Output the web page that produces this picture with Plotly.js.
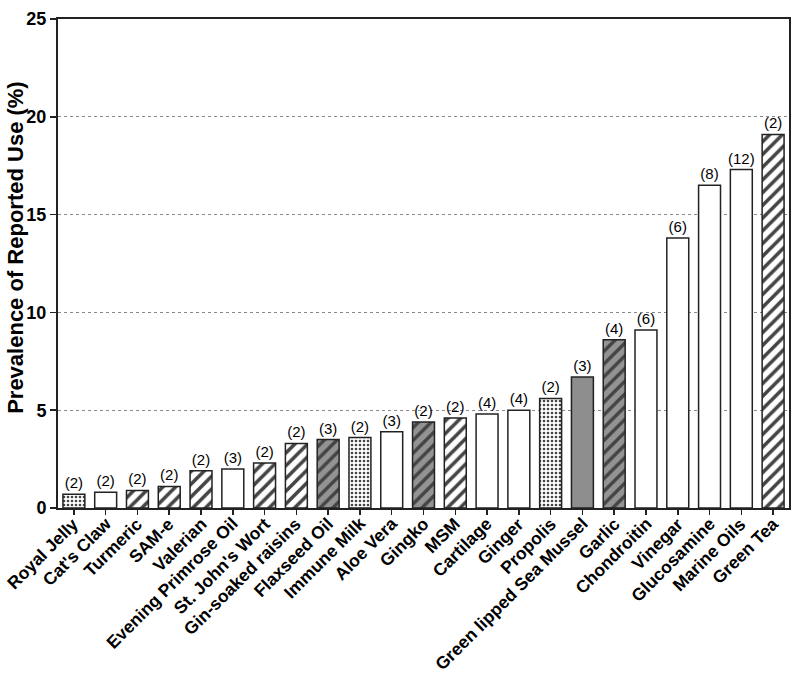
<!DOCTYPE html>
<html>
<head>
<meta charset="utf-8">
<script src="https://cdn.plot.ly/plotly-3.0.1.min.js"></script>
<style>html,body{margin:0;padding:0;background:#fff;}#chart{width:800px;height:673px;}</style>
</head>
<body>
<div id="chart"></div>
<script>
const categories = ["Royal Jelly","Cat's Claw","Turmeric","SAM-e","Valerian","Evening Primrose Oil","St. John's Wort","Gin-soaked raisins","Flaxseed Oil","Immune Milk","Aloe Vera","Gingko","MSM","Cartilage","Ginger","Propolis","Green lipped Sea Mussel","Garlic","Chondroitin","Vinegar","Glucosamine","Marine Oils","Green Tea"];
const prevalence = [0.7,0.8,0.9,1.1,1.9,2.0,2.3,3.3,3.5,3.6,3.9,4.4,4.6,4.8,5.0,5.6,6.7,8.6,9.1,13.8,16.5,17.3,19.1];
const studyCounts = [2,2,2,2,2,3,2,2,3,2,3,2,2,4,4,2,3,4,6,6,8,12,2];
const groups = ["dotted","plain","hatched","hatched","hatched","plain","hatched","hatched","grayHatched","dotted","plain","grayHatched","hatched","plain","plain","dotted","gray","grayHatched","plain","plain","plain","plain","hatched"];
const yTicks = [0,5,10,15,20,25];
const yTitle = "Prevalence of Reported Use (%)";

const styleMap = {
  plain:       {bg:"#ffffff", shape:"",  fg:"#000000", size:8, sol:0.3},
  hatched:     {bg:"#ffffff", shape:"/", fg:"#000000", size:9, sol:0.4},
  grayHatched: {bg:"#939393", shape:"/", fg:"#000000", size:9, sol:0.38},
  gray:        {bg:"#8e8e8e", shape:"",  fg:"#000000", size:8, sol:0.3},
  dotted:      {bg:"#ffffff", shape:".", fg:"#444444", size:4, sol:0.35}
};
const bg = groups.map(g => styleMap[g].bg);
const shp = groups.map(g => styleMap[g].shape);
const fg = groups.map(g => styleMap[g].fg);
const sz = groups.map(g => styleMap[g].size);
const sol = groups.map(g => styleMap[g].sol);

const FONT = "Liberation Sans, Arial, sans-serif";

const trace = {
  type: "bar",
  x: categories,
  y: prevalence,
  text: studyCounts.map(c => "(" + c + ")"),
  textposition: "outside",
  constraintext: "none",
  cliponaxis: false,
  textfont: {family: FONT, size: 15, color: "#000"},
  marker: {
    color: bg,
    line: {color: "#222", width: 1.5},
    pattern: {shape: shp, fgcolor: fg, size: sz, solidity: sol, fillmode: "overlay", fgopacity: 1}
  },
  hoverinfo: "none"
};

const catLabels = categories.map(c => ({
  text: c,
  xref: "x", yref: "y",
  x: c, y: 0,
  xanchor: "right", yanchor: "top",
  xshift: 12, yshift: -3,
  textangle: -45,
  showarrow: false,
  font: {size: 17.5, weight: "bold", family: FONT, color: "#000"}
}));

const layout = {
  width: 800, height: 673,
  margin: {l: 58, r: 11, t: 19, b: 165},
  paper_bgcolor: "#fff",
  plot_bgcolor: "#fff",
  bargap: 0.31,
  showlegend: false,
  font: {family: FONT, color: "#000"},
  xaxis: {
    type: "category",
    range: [-0.5, 22.5],
    showticklabels: false,
    ticks: "outside", ticklen: 5, tickwidth: 1.5, tickcolor: "#222",
    showline: true, linecolor: "#222", linewidth: 2, mirror: true,
    showgrid: false, zeroline: false
  },
  yaxis: {
    range: [0, 25],
    tickvals: yTicks,
    ticktext: yTicks.map(String),
    tickfont: {size: 18, weight: "bold", family: FONT, color: "#000"},
    ticks: "outside", ticklen: 6, tickwidth: 1.5, tickcolor: "#222",
    showline: true, linecolor: "#222", linewidth: 2, mirror: true,
    showgrid: true, gridcolor: "#888", gridwidth: 1, griddash: "dot",
    zeroline: false
  },
  annotations: [{
    text: yTitle,
    xref: "paper", yref: "paper",
    x: 0, y: 0.532,
    xanchor: "center", yanchor: "middle",
    xshift: -42,
    textangle: -90,
    showarrow: false,
    font: {size: 22, weight: "bold", family: FONT, color: "#000"}
  }].concat(catLabels)
};

Plotly.newPlot("chart", [trace], layout, {displayModeBar: false, staticPlot: true});
</script>
</body>
</html>
